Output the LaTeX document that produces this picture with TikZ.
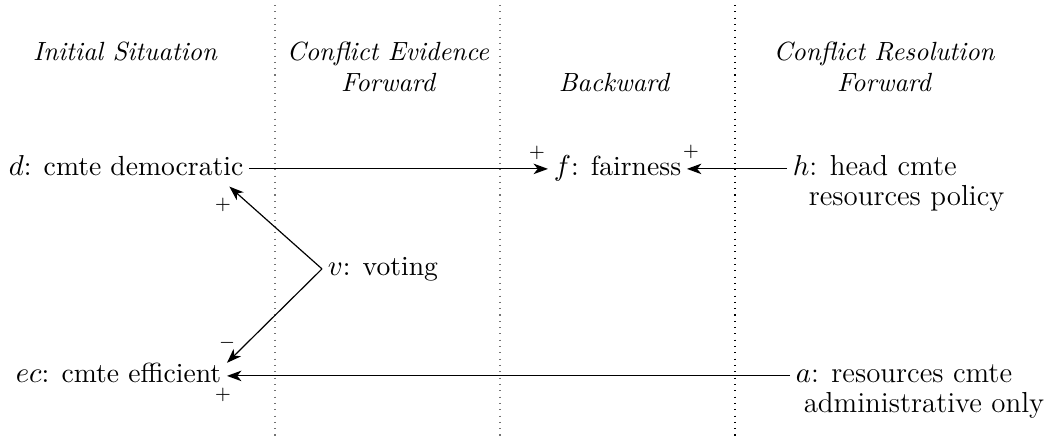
\documentclass[tikz,border=0pt]{standalone}
\usetikzlibrary{arrows.meta}
\begin{document}
\begin{tikzpicture}[x=0.38pt,y=-0.38pt,
  lbl/.style={font=\fontsize{10.5}{12.6}\selectfont, inner xsep=2pt, inner ysep=1pt,
              text height=1.5ex, text depth=.25ex, anchor=base west},
  lblwide/.style={lbl, font=\fontsize{11}{13.2}\selectfont},
  head/.style={font=\itshape, align=center, inner sep=0pt, anchor=north},
  sign/.style={font=\scriptsize, inner sep=0pt},
  link/.style={-{Stealth[length=5.5pt,width=4pt,inset=1.6pt]}, line width=0.45pt},
  phase/.style={dotted, line width=0.4pt}]
\useasboundingbox (0,0) rectangle (1053,442);

% phase separators
\draw[phase, black!55] (275,5) -- (275,440);
\draw[phase, black!55] (500,5) -- (500,440);
\draw[phase] (735,5) -- (735,440);

% column headings
\node[head] (t1) at (125,41) {Initial Situation};
\node[head] (t2) at (388,41) {Conflict Evidence\\Forward};
\node[head] (t3) at (614,73) {Backward};
\node[head] (t4) at (884,41) {Conflict Resolution\\Forward};

% statements
\node[lbl] (d)  at (3,176)   {$d$: cmte democratic};
\node[lbl] (f)  at (548,176) {$f$: fairness};
\node[lblwide] (h)  at (787,176) {$h$: head cmte};
\node[lblwide] (hb) at (803,206) {resources policy};
\node[lbl] (v)  at (322,276) {$v$: voting};
\node[lbl] (ec) at (10,383)  {$ec$: cmte efficient};
\node[lblwide] (a)  at (790,383) {$a$: resources cmte};
\node[lblwide] (ab) at (798,413) {administrative only};

% influences
\draw[link] (d) -- (f);
\draw[link] (h) -- (f);
\draw[link] (v.west) -- ([xshift=-7.5pt,yshift=-1.75pt]d.south east);
\draw[link] (v.west) -- (ec.north east);
\draw[link] (a) -- (ec);

% polarities
\node[sign] (p1) at (223,205) {$+$};
\node[sign] (p2) at (537,153) {$+$};
\node[sign] (p3) at (691,152) {$+$};
\node[sign] (m1) at (227,343) {$-$};
\node[sign] (p4) at (223,395) {$+$};
\end{tikzpicture}
\end{document}
